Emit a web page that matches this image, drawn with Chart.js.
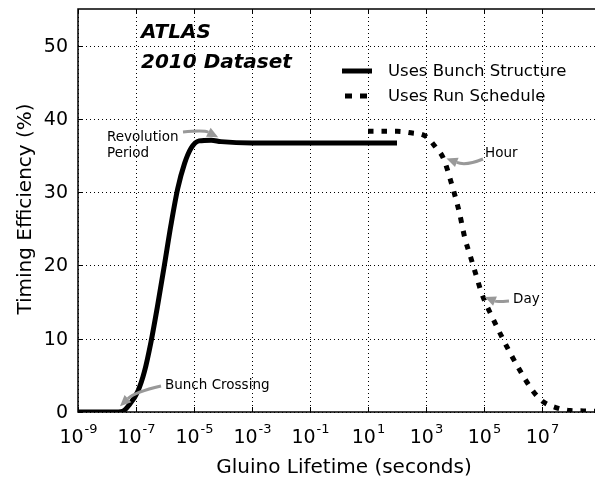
<!DOCTYPE html>
<html>
<head>
<meta charset="utf-8">
<script src="https://cdn.jsdelivr.net/npm/chart.js@4.4.1/dist/chart.umd.min.js"></script>
<style>
  html, body { margin: 0; padding: 0; background: #fff; overflow: hidden; }
  #wrap { width: 610px; height: 480px; }
</style>
</head>
<body>
<div id="wrap"><canvas id="chart" width="610" height="480"></canvas></div>
<script>
  // lifetimes in seconds, efficiency in percent
  const bunchLifetime = [1e-9, 1e-8, 2.5e-8, 3.5e-8, 5.9e-8, 1.15e-7, 1.95e-7, 3.3e-7, 5.6e-7, 9.5e-7, 1.6e-6, 2.75e-6, 4.7e-6, 7.9e-6, 1.5e-5, 3.9e-5, 8.5e-5, 1e-3, 100];
  const bunchEff = [0, 0, 0, 0.1, 1, 2.8, 5.5, 9.6, 14.6, 20, 25.5, 30.5, 33.9, 36, 37, 37.1, 36.9, 36.7, 36.7];

  const runLifetime = [10, 100, 300, 1000, 2200, 4000, 7800, 1.4e4, 2.2e4, 3.3e4, 5.9e4, 8.3e4, 2e5, 5.8e5, 1.55e6, 5e6, 1.1e7, 3e7, 9.3e7, 2.7e8, 1e9];
  const runEff = [38.3, 38.3, 38.1, 37.6, 36.1, 34.6, 31, 27.3, 23.7, 21.4, 18.1, 16.2, 12.8, 9.1, 6, 2.8, 1.4, 0.6, 0.2, 0.15, 0.1];

  const seriesNames = ['Uses Bunch Structure', 'Uses Run Schedule'];
  const xTickExp = [-9, -7, -5, -3, -1, 1, 3, 5, 7];
  const yTicks = [0, 10, 20, 30, 40, 50];

  // annotation labels and the point each arrow points at
  const notes = [
    { text: ['Revolution', 'Period'], x: 6.8e-5, y: 37.5 },
    { text: ['Bunch Crossing'], x: 2.8e-8, y: 0.8 },
    { text: ['Hour'], x: 5100, y: 34.6 },
    { text: ['Day'], x: 1.07e5, y: 15.7 }
  ];

  const FONT = '"DejaVu Sans", sans-serif';

  function toPoints(xs, ys) {
    return xs.map((x, i) => ({ x: x, y: ys[i] }));
  }

  // draws grid, frame, ticks, labels, legend and notes
  const decorPlugin = {
    id: 'decor',
    beforeDatasetsDraw(chart) {
      const { ctx, chartArea: a, scales: { x, y } } = chart;
      ctx.save();
      ctx.strokeStyle = '#000';
      ctx.lineWidth = 1;
      ctx.setLineDash([1, 3]);
      xTickExp.forEach((e) => {
        const px = Math.round(x.getPixelForValue(Math.pow(10, e))) + 0.5;
        ctx.beginPath(); ctx.moveTo(px, a.top); ctx.lineTo(px, a.bottom); ctx.stroke();
      });
      yTicks.forEach((v) => {
        const py = Math.round(y.getPixelForValue(v)) + 0.5;
        ctx.beginPath(); ctx.moveTo(a.left, py); ctx.lineTo(a.right, py); ctx.stroke();
      });
      ctx.restore();
    },
    afterDatasetsDraw(chart) {
      const { ctx, chartArea: a, scales: { x, y } } = chart;
      ctx.save();
      // frame
      ctx.strokeStyle = '#000';
      ctx.lineWidth = 1.5;
      ctx.strokeRect(a.left, a.top, a.right - a.left, a.bottom - a.top);
      // inward ticks
      ctx.lineWidth = 1;
      xTickExp.forEach((e) => {
        const px = Math.round(x.getPixelForValue(Math.pow(10, e))) + 0.5;
        ctx.beginPath();
        ctx.moveTo(px, a.bottom); ctx.lineTo(px, a.bottom - 5);
        ctx.moveTo(px, a.top); ctx.lineTo(px, a.top + 5);
        ctx.stroke();
      });
      yTicks.forEach((v) => {
        const py = Math.round(y.getPixelForValue(v)) + 0.5;
        ctx.beginPath();
        ctx.moveTo(a.left, py); ctx.lineTo(a.left + 5, py);
        ctx.moveTo(a.right, py); ctx.lineTo(a.right - 5, py);
        ctx.stroke();
      });

      // tick labels
      ctx.fillStyle = '#000';
      ctx.textBaseline = 'middle';
      ctx.textAlign = 'right';
      ctx.font = '19px ' + FONT;
      yTicks.forEach((v) => {
        ctx.fillText(String(v), a.left - 10, y.getPixelForValue(v) + 1);
      });
      ctx.textBaseline = 'alphabetic';
      xTickExp.forEach((e) => {
        const px = x.getPixelForValue(Math.pow(10, e));
        ctx.font = '19px ' + FONT;
        const baseW = ctx.measureText('10').width;
        ctx.font = '13px ' + FONT;
        const sup = e < 0 ? '-' + Math.abs(e) : String(e);
        const supW = ctx.measureText(sup).width;
        const left = px - (baseW + supW) / 2;
        ctx.textAlign = 'left';
        ctx.font = '19px ' + FONT;
        ctx.fillText('10', left, a.bottom + 31);
        ctx.font = '13px ' + FONT;
        ctx.fillText(sup, left + baseW + 1, a.bottom + 21);
      });

      // axis titles
      ctx.font = '20px ' + FONT;
      ctx.textAlign = 'center';
      ctx.fillText('Gluino Lifetime (seconds)', 344, 473);
      ctx.save();
      ctx.translate(31, 209);
      ctx.rotate(-Math.PI / 2);
      ctx.fillText('Timing Efficiency (%)', 0, 0);
      ctx.restore();

      // ATLAS label
      ctx.textAlign = 'left';
      ctx.font = 'italic bold 20px ' + FONT;
      ctx.fillText('ATLAS', 141, 38);
      ctx.fillText('2010 Dataset', 141, 68);

      // legend
      ctx.font = '16.5px ' + FONT;
      ctx.textBaseline = 'middle';
      ctx.lineWidth = 5;
      ctx.lineCap = 'butt';
      ctx.beginPath(); ctx.moveTo(342, 71); ctx.lineTo(372, 71); ctx.stroke();
      ctx.setLineDash([7, 8]);
      ctx.beginPath(); ctx.moveTo(345, 96); ctx.lineTo(372, 96); ctx.stroke();
      ctx.setLineDash([]);
      ctx.fillText(seriesNames[0], 388, 72);
      ctx.fillText(seriesNames[1], 388, 97);

      // notes with curved grey arrows
      ctx.font = '13.5px ' + FONT;
      ctx.textBaseline = 'alphabetic';
      const layout = [
        { tx: 107, ty: 141, sx: 183, sy: 132, cx: 204, cy: 130 },
        { tx: 165, ty: 389, sx: 161, sy: 386, cx: 135, cy: 392 },
        { tx: 485, ty: 157, sx: 483, sy: 159, cx: 466, cy: 166 },
        { tx: 513, ty: 303, sx: 509, sy: 301, cx: 497, cy: 302 }
      ];
      notes.forEach((n, i) => {
        const L = layout[i];
        ctx.fillStyle = '#000';
        n.text.forEach((t, k) => ctx.fillText(t, L.tx, L.ty + k * 16));
        const hx = x.getPixelForValue(n.x);
        const hy = y.getPixelForValue(n.y);
        const ang = Math.atan2(hy - L.cy, hx - L.cx);
        const head = 11;
        const bx = hx - Math.cos(ang) * head;
        const by = hy - Math.sin(ang) * head;
        ctx.strokeStyle = '#999';
        ctx.fillStyle = '#999';
        ctx.lineWidth = 3;
        ctx.beginPath();
        ctx.moveTo(L.sx, L.sy);
        ctx.quadraticCurveTo(L.cx, L.cy, bx, by);
        ctx.stroke();
        ctx.beginPath();
        ctx.moveTo(hx, hy);
        ctx.lineTo(bx + Math.cos(ang + Math.PI / 2) * 5, by + Math.sin(ang + Math.PI / 2) * 5);
        ctx.lineTo(bx + Math.cos(ang - Math.PI / 2) * 5, by + Math.sin(ang - Math.PI / 2) * 5);
        ctx.closePath();
        ctx.fill();
      });
      ctx.restore();
    }
  };

  const ctx = document.getElementById('chart').getContext('2d');
  const chart = new Chart(ctx, {
    type: 'line',
    data: {
      datasets: [{
        label: seriesNames[0],
        data: toPoints(bunchLifetime, bunchEff),
        borderColor: '#000',
        borderWidth: 5,
        pointRadius: 0,
        cubicInterpolationMode: 'monotone',
        borderCapStyle: 'butt',
        fill: false
      }, {
        label: seriesNames[1],
        data: toPoints(runLifetime, runEff),
        borderColor: '#000',
        borderWidth: 5,
        borderDash: [5.5, 8],
        borderCapStyle: 'butt',
        pointRadius: 0,
        cubicInterpolationMode: 'monotone',
        fill: false
      }]
    },
    options: {
      responsive: false,
      animation: false,
      layout: { padding: { left: 78, top: 9, right: 10, bottom: 68 } },
      plugins: { legend: { display: false }, tooltip: { enabled: false } },
      scales: {
        x: {
          type: 'logarithmic',
          min: 1e-9,
          max: 1e9,
          ticks: { display: false },
          grid: { display: false, drawTicks: false },
          border: { display: false }
        },
        y: {
          min: 0,
          max: 55,
          ticks: { display: false },
          grid: { display: false, drawTicks: false },
          border: { display: false }
        }
      }
    },
    plugins: [decorPlugin]
  });
</script>
</body>
</html>
